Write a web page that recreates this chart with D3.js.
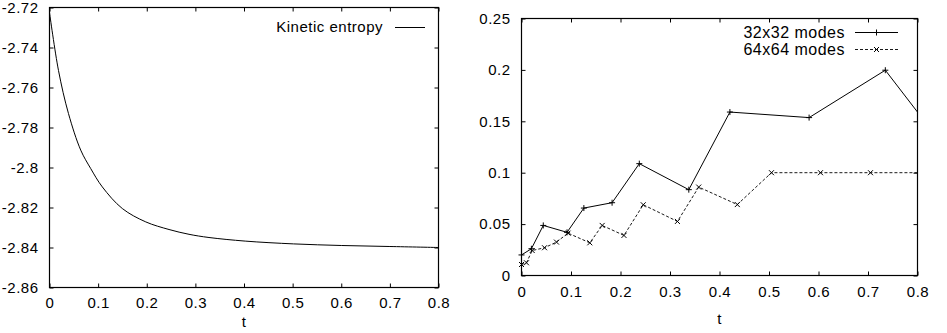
<!DOCTYPE html>
<html lang="en">
<head>
  <meta charset="UTF-8">
  <title>Kinetic entropy and modes</title>
  <script src="https://d3js.org/d3.v7.min.js"></script>
  <style>
    body { margin: 0; background: #fff; }
    svg { display: block; }
    text { font-family: "Liberation Sans", Arial, Helvetica, sans-serif; font-size: 15px; fill: #000; letter-spacing: 0.5px; }
  </style>
</head>
<body>
  <div id="chart"></div>
  <script>
    // left panel: kinetic entropy vs t
    const entropyT = [0, 0.0185, 0.039, 0.0642, 0.0847, 0.1086, 0.1497, 0.198, 0.2458, 0.2869, 0.328, 0.4025, 0.502, 0.601, 0.7, 0.8]
    const entropyV = [-2.7225, -2.7515, -2.773, -2.7913, -2.8005, -2.8097, -2.8205, -2.8272, -2.831, -2.8334, -2.835, -2.8368, -2.8382, -2.839, -2.8395, -2.840]

    // right panel: two resolutions
    const t32 = [0, 0.02, 0.044, 0.092, 0.126, 0.183, 0.238, 0.338, 0.421, 0.581, 0.735, 0.8]
    const v32 = [0.020, 0.026, 0.0487, 0.042, 0.0656, 0.0708, 0.1088, 0.0835, 0.159, 0.1536, 0.1997, 0.159]
    const t64 = [0, 0.01, 0.0216, 0.0465, 0.0707, 0.094, 0.138, 0.163, 0.207, 0.246, 0.315, 0.358, 0.436, 0.505, 0.604, 0.705, 0.8]
    const v64 = [0.0107, 0.0124, 0.0243, 0.027, 0.0325, 0.0412, 0.0318, 0.0487, 0.039, 0.0688, 0.0526, 0.086, 0.069, 0.100, 0.100, 0.100, 0.100]

    const xTicks = [0, 0.1, 0.2, 0.3, 0.4, 0.5, 0.6, 0.7, 0.8]
    const leftYTicks = [-2.86, -2.84, -2.82, -2.8, -2.78, -2.76, -2.74, -2.72]
    const rightYTicks = [0, 0.05, 0.1, 0.15, 0.2, 0.25]

    const width = 947
    const height = 333

    const svg = d3.select('#chart').append('svg')
      .attr('width', width)
      .attr('height', height)

    const fmt = d => String(+d.toFixed(2))

    function panel(box, xDomain, yDomain, yTicks, xPad, tY) {
      const x = d3.scaleLinear().domain(xDomain).range([box.left, box.right])
      const y = d3.scaleLinear().domain(yDomain).range([box.bottom, box.top])
      const g = svg.append('g')

      g.append('g')
        .attr('transform', `translate(0,${box.bottom})`)
        .call(d3.axisBottom(x).tickValues(xTicks).tickFormat(fmt).tickSizeInner(-4).tickSizeOuter(0).tickPadding(xPad))
      g.append('g')
        .attr('transform', `translate(0,${box.top})`)
        .call(d3.axisTop(x).tickValues(xTicks).tickFormat('').tickSizeInner(-4).tickSizeOuter(0))
      g.append('g')
        .attr('transform', `translate(${box.left},0)`)
        .call(d3.axisLeft(y).tickValues(yTicks).tickFormat(fmt).tickSizeInner(-4).tickSizeOuter(0).tickPadding(11))
      g.append('g')
        .attr('transform', `translate(${box.right},0)`)
        .call(d3.axisRight(y).tickValues(yTicks).tickFormat('').tickSizeInner(-4).tickSizeOuter(0))

      g.selectAll('.domain').remove()
      g.selectAll('.tick line').attr('stroke', '#000')
      g.selectAll('.tick text').attr('font-size', 15).attr('font-family', '"Liberation Sans", Arial, sans-serif')

      g.append('rect')
        .attr('x', box.left)
        .attr('y', box.top)
        .attr('width', box.right - box.left)
        .attr('height', box.bottom - box.top)
        .attr('fill', 'none')
        .attr('stroke', '#000')
        .attr('stroke-width', 1.2)

      g.append('text')
        .attr('x', (box.left + box.right) / 2)
        .attr('y', tY)
        .attr('text-anchor', 'middle')
        .style('font-size', '15px')
        .text('t')

      return { x, y, g }
    }

    // left panel
    const L = panel({ left: 49.5, right: 438.5, top: 7.5, bottom: 287.5 }, [0, 0.8], [-2.86, -2.72], leftYTicks, 10, 327)
    const entropy = entropyT.map((t, i) => [t, entropyV[i]])
    L.g.append('path')
      .datum(entropy)
      .attr('fill', 'none')
      .attr('stroke', '#000')
      .attr('stroke-width', 1)
      .attr('d', d3.line().x(d => L.x(d[0])).y(d => L.y(d[1])).curve(d3.curveCatmullRom.alpha(0.5)))

    L.g.append('text')
      .attr('x', 383)
      .attr('y', 32)
      .attr('text-anchor', 'end')
      .text('Kinetic entropy')
    L.g.append('line')
      .attr('x1', 395).attr('x2', 425)
      .attr('y1', 27.5).attr('y2', 27.5)
      .attr('stroke', '#000')

    // right panel
    const R = panel({ left: 521.5, right: 917.5, top: 18.5, bottom: 275.5 }, [0, 0.8], [0, 0.25], rightYTicks, 11, 323.5)
    const s32 = t32.map((t, i) => [t, v32[i]])
    const s64 = t64.map((t, i) => [t, v64[i]])

    const line = d3.line().x(d => R.x(d[0])).y(d => R.y(d[1]))

    function plus(sel, cx, cy) {
      sel.append('path')
        .attr('d', `M${cx - 3},${cy}H${cx + 3}M${cx},${cy - 3}V${cy + 3}`)
        .attr('stroke', '#000')
        .attr('stroke-width', 1)
    }
    function cross(sel, cx, cy) {
      sel.append('path')
        .attr('d', `M${cx - 2.5},${cy - 2.5}L${cx + 2.5},${cy + 2.5}M${cx - 2.5},${cy + 2.5}L${cx + 2.5},${cy - 2.5}`)
        .attr('stroke', '#000')
        .attr('stroke-width', 1)
    }

    R.g.append('path')
      .datum(s32)
      .attr('fill', 'none')
      .attr('stroke', '#000')
      .attr('stroke-width', 1)
      .attr('d', line)
    R.g.append('path')
      .datum(s64)
      .attr('fill', 'none')
      .attr('stroke', '#000')
      .attr('stroke-width', 0.9)
      .attr('stroke-dasharray', '3,2')
      .attr('d', line)

    s32.slice(0, -1).forEach(d => plus(R.g, R.x(d[0]), R.y(d[1])))
    s64.slice(0, -1).forEach(d => cross(R.g, R.x(d[0]), R.y(d[1])))

    R.g.append('text')
      .attr('x', 845).attr('y', 38)
      .attr('text-anchor', 'end')
      .style('font-size', '16px')
      .text('32x32 modes')
    R.g.append('line')
      .attr('x1', 855).attr('x2', 898)
      .attr('y1', 32.5).attr('y2', 32.5)
      .attr('stroke', '#000')
    plus(R.g, 876.5, 32.5)

    R.g.append('text')
      .attr('x', 845).attr('y', 55)
      .attr('text-anchor', 'end')
      .style('font-size', '16px')
      .text('64x64 modes')
    R.g.append('line')
      .attr('x1', 855).attr('x2', 898)
      .attr('y1', 49.5).attr('y2', 49.5)
      .attr('stroke', '#000')
      .attr('stroke-width', 0.9)
      .attr('stroke-dasharray', '3,2')
    cross(R.g, 876.5, 49.5)
  </script>
</body>
</html>
